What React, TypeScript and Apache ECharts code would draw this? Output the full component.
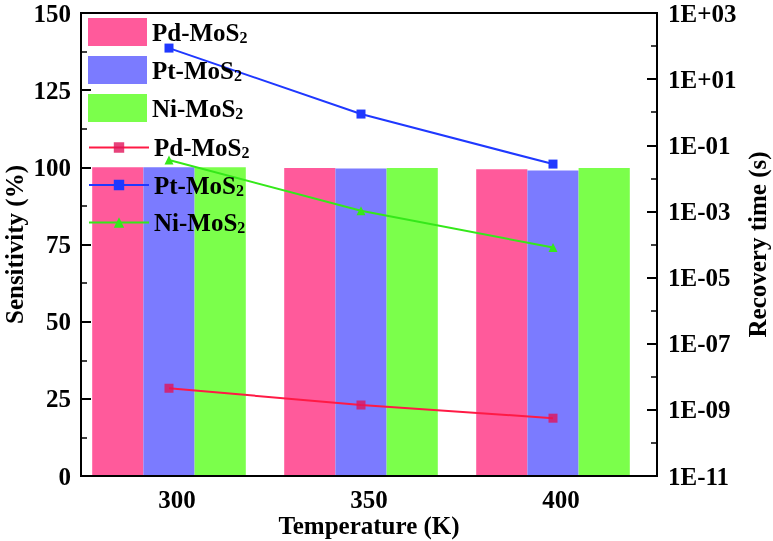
import React, { useEffect, useRef } from "react";
import * as echarts from "echarts";

const categories = ["300", "350", "400"];
const barNames = ["Pd-MoS2", "Pt-MoS2", "Ni-MoS2"];
const lineNames = ["Pd-MoS2 ", "Pt-MoS2 ", "Ni-MoS2 "];
const pdSensitivity = [100, 99.8, 99.4];
const ptSensitivity = [100, 99.6, 99.0];
const niSensitivity = [100, 99.8, 99.8];
const pdRecovery = [4.5e-9, 1.4e-9, 5.6e-10];
const ptRecovery = [87, 0.88, 0.027];
const niRecovery = [0.036, 0.00105, 8.1e-5];
const recoveryExpMin = -11;
const recoveryExpMax = 3;

const FONT = "'Liberation Serif', 'Times New Roman', serif";

const fmtExp = (v: number) => {
  const e = Math.round(v);
  return "1E" + (e < 0 ? "-" : "+") + String(Math.abs(e)).padStart(2, "0");
};

const legendFormatter = (name: string) => {
  const n = name.trim();
  return `{b|${n.slice(0, -1)}}{s|${n.slice(-1)}}`;
};

const legendRich = {
  b: { fontFamily: FONT, fontWeight: "bold", fontSize: 25, color: "#000", lineHeight: 26 },
  s: { fontFamily: FONT, fontWeight: "bold", fontSize: 16, color: "#000", lineHeight: 8, verticalAlign: "bottom" },
};

export default function App() {
  const ref = useRef<HTMLDivElement>(null);
  useEffect(() => {
    if (!ref.current) return;
    const chart = echarts.init(ref.current, null, { renderer: "svg" });
    const L = 81, W = 576, T = 13, H = 463;
    const tickStyle = { show: true, inside: true, length: 10, lineStyle: { color: "#000", width: 2 } };
    const minorStyle = { show: true, splitNumber: 2, length: 6, lineStyle: { color: "#000", width: 1.5 } };
    const lbl = { fontFamily: FONT, fontWeight: "bold", fontSize: 25, color: "#000" };
    const nameStyle = { fontFamily: FONT, fontWeight: "bold", fontSize: 25, color: "#000" };
    const barColors = ["#FF5A9B", "#7B7BFF", "#7BFF4B"];
    const sens = [pdSensitivity, ptSensitivity, niSensitivity];
    const rec = [pdRecovery, ptRecovery, niRecovery];
    const lineColors = ["#FF1A45", "#1F38FF", "#35E81A"];
    const markerColors = ["rgba(225,20,90,0.8)", "#1F38FF", "#35E81A"];
    const symbols = ["rect", "rect", "triangle"];

    chart.setOption({
      animation: false,
      grid: [
        { left: L, top: T, width: W, height: H, show: true, borderColor: "#000", borderWidth: 2, backgroundColor: "transparent", outerBoundsMode: "none", containLabel: false },
        { left: L - 8, top: T, width: W, height: H, outerBoundsMode: "none", containLabel: false },
      ],
      legend: [
        {
          orient: "vertical", left: 83, top: 13, itemWidth: 59, itemHeight: 28, itemGap: 10, icon: "rect",
          data: barNames, formatter: legendFormatter, textStyle: { rich: legendRich }, selectedMode: false,
        },
        {
          orient: "vertical", left: 83, top: 130, itemWidth: 60, itemHeight: 13, itemGap: 12,
          data: lineNames, formatter: legendFormatter, textStyle: { rich: legendRich }, selectedMode: false,
        },
      ],
      xAxis: [
        {
          type: "category", gridIndex: 0, data: categories, z: 10,
          axisLine: { lineStyle: { color: "#000", width: 2 } },
          axisTick: { show: false },
          axisLabel: { ...lbl, margin: 11 },
          name: "Temperature (K)", nameLocation: "middle", nameGap: 37, nameMoveOverlap: false, nameTextStyle: nameStyle,
        },
        { type: "category", gridIndex: 1, data: categories, show: false },
      ],
      yAxis: [
        {
          type: "value", gridIndex: 0, min: 0, max: 150, interval: 25, position: "left", z: 10,
          axisLine: { show: true, lineStyle: { color: "#000", width: 2 } },
          axisTick: tickStyle, minorTick: minorStyle, splitLine: { show: false },
          axisLabel: { ...lbl, margin: 10 },
          name: "Sensitivity (%)", nameLocation: "middle", nameGap: 54, nameMoveOverlap: false, nameTextStyle: nameStyle,
        },
        {
          type: "value", gridIndex: 0, min: recoveryExpMin, max: recoveryExpMax, interval: 2, position: "right", z: 10,
          axisLine: { show: true, lineStyle: { color: "#000", width: 2 } },
          axisTick: tickStyle, minorTick: minorStyle, splitLine: { show: false },
          axisLabel: { ...lbl, margin: 11, formatter: fmtExp },
          name: "Recovery time (s)", nameLocation: "middle", nameGap: 88, nameMoveOverlap: false, nameTextStyle: nameStyle,
        },
        { type: "value", gridIndex: 1, min: 0, max: 150, show: false, splitLine: { show: false } },
        { type: "value", gridIndex: 1, min: recoveryExpMin, max: recoveryExpMax, show: false, splitLine: { show: false } },
      ],
      series: [
        ...barNames.map((n, i) => ({
          type: "bar", name: n, xAxisIndex: 1, yAxisIndex: 2, data: sens[i],
          barGap: "0%", barCategoryGap: "20%", itemStyle: { color: barColors[i] }, z: 2,
        })),
        ...lineNames.map((n, i) => ({
          type: "line", name: n, xAxisIndex: 1, yAxisIndex: 3,
          data: rec[i].map((v) => Math.log10(v)),
          symbol: symbols[i], symbolSize: 9, showSymbol: true,
          lineStyle: { color: lineColors[i], width: 2 },
          itemStyle: { color: markerColors[i] }, z: 3,
        })),
      ],
    });
    return () => chart.dispose();
  }, []);
  return <div ref={ref} style={{ position: "fixed", left: 0, top: 0, width: 773, height: 541 }} />;
}
